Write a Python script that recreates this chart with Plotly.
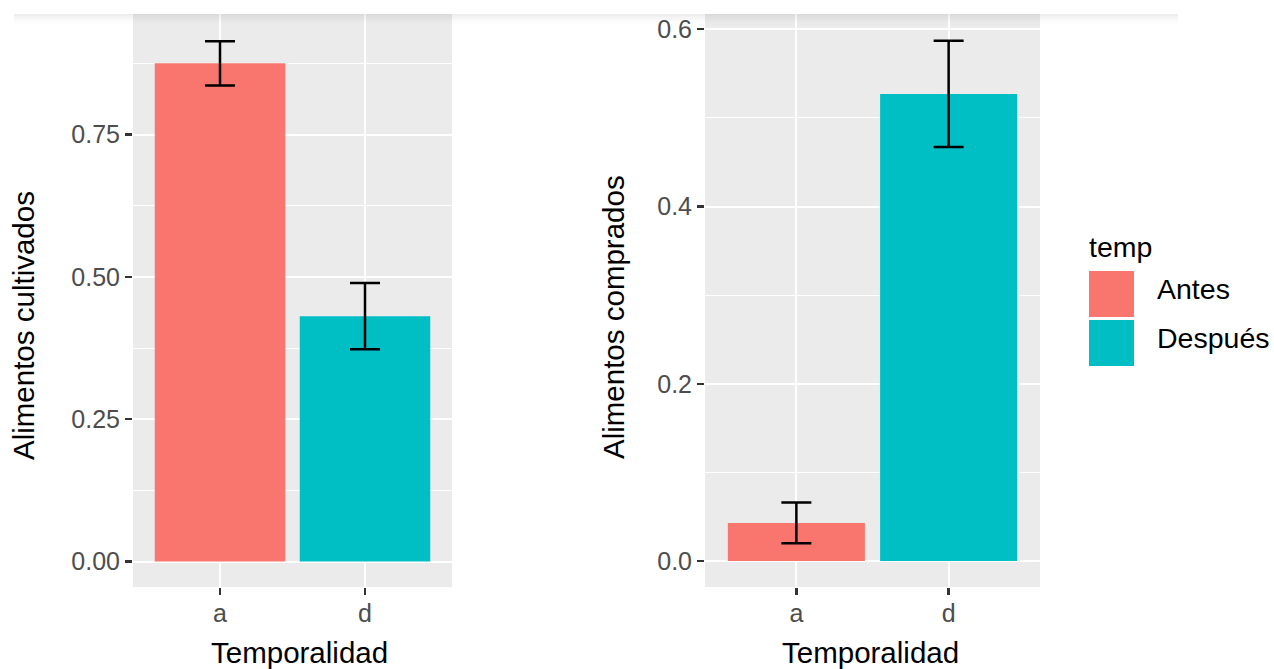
import plotly.graph_objects as go

W, H = 1274, 669

# ---- data ----
categories = ["a", "d"]
legend_labels = ["Antes", "Después"]
bar_colors = ["#F8766D", "#00BFC4"]

cultivados_mean = [0.875, 0.431]
cultivados_se = [0.039, 0.058]

comprados_mean = [0.043, 0.527]
comprados_se = [0.023, 0.060]

left_ticks = [0.0, 0.25, 0.5, 0.75]
right_ticks = [0.0, 0.2, 0.4, 0.6]


def px(x):
    return x / W


def py(y):
    return 1 - y / H


fig = go.Figure()

fig.add_trace(go.Bar(
    x=categories, y=cultivados_mean, width=0.9,
    marker=dict(color=bar_colors, line=dict(width=0)),
    error_y=dict(type="data", array=cultivados_se, visible=True,
                 color="black", thickness=2.5, width=15),
    xaxis="x", yaxis="y", showlegend=False, hoverinfo="skip",
))
fig.add_trace(go.Bar(
    x=categories, y=comprados_mean, width=0.9,
    marker=dict(color=bar_colors, line=dict(width=0)),
    error_y=dict(type="data", array=comprados_se, visible=True,
                 color="black", thickness=2.5, width=15),
    xaxis="x2", yaxis="y2", showlegend=False, hoverinfo="skip",
))

tickfont = dict(family="Liberation Sans, Arial, sans-serif", size=25, color="#4D4D4D")
titlefont = dict(family="Liberation Sans, Arial, sans-serif", size=29.5, color="black")
legfont = dict(family="Liberation Sans, Arial, sans-serif", size=28.5, color="black")

ydom = [py(587), py(14)]

common_x = dict(type="category", categoryorder="array", categoryarray=categories,
                range=[-0.6, 1.6], showgrid=True, gridcolor="white", gridwidth=2,
                ticks="outside", ticklen=7, tickwidth=2.5, tickcolor="#333333",
                ticklabelstandoff=-3,
                tickfont=tickfont, showline=False, zeroline=False, fixedrange=True)
common_y = dict(showgrid=True, gridcolor="white", gridwidth=2,
                ticks="outside", ticklen=7, tickwidth=2.5, tickcolor="#333333",
                tickfont=tickfont, showline=False, zeroline=False, fixedrange=True)

fig.update_layout(
    width=W, height=H,
    margin=dict(l=0, r=0, t=0, b=0),
    paper_bgcolor="white",
    plot_bgcolor="#EBEBEB",
    bargap=0.1,
    xaxis=dict(common_x, domain=[px(133), px(452)], anchor="y"),
    yaxis=dict(common_y, domain=ydom, anchor="x", range=[-0.0448, 0.9617],
               tickvals=left_ticks, tickformat=".2f",
               minor=dict(showgrid=True, gridcolor="white", gridwidth=1,
                          tick0=0.125, dtick=0.25)),
    xaxis2=dict(common_x, domain=[px(705), px(1040)], anchor="y2"),
    yaxis2=dict(common_y, domain=ydom, anchor="x2", range=[-0.0293, 0.6172],
                tickvals=right_ticks, tickformat=".1f",
                minor=dict(showgrid=True, gridcolor="white", gridwidth=1,
                           tick0=0.1, dtick=0.2)),
    showlegend=False,
)

annotations = [
    dict(text="Alimentos cultivados", x=px(23), y=py(326), textangle=-90),
    dict(text="Alimentos comprados", x=px(613), y=py(317), textangle=-90),
    dict(text="Temporalidad", x=px(299), y=py(652)),
    dict(text="Temporalidad", x=px(870), y=py(652)),
]
anns = []
for a in annotations:
    anns.append(dict(a, xref="paper", yref="paper", showarrow=False,
                     xanchor="center", yanchor="middle", font=titlefont))

# legend (manual)
anns.append(dict(text="temp", x=px(1087), y=py(247), xref="paper", yref="paper",
                 showarrow=False, xanchor="left", yanchor="middle", font=legfont))
key_tops = [271, 320]
label_centers = [289, 338]
shapes = []
for i, (lab, col) in enumerate(zip(legend_labels, bar_colors)):
    shapes.append(dict(type="rect", xref="paper", yref="paper",
                       x0=px(1089), x1=px(1134), y0=py(key_tops[i] + 46), y1=py(key_tops[i]),
                       fillcolor=col, line=dict(width=0)))
    anns.append(dict(text=lab, x=px(1155), y=py(label_centers[i]), xref="paper", yref="paper",
                     showarrow=False, xanchor="left", yanchor="middle", font=legfont))

# faint top shadow band
alphas = [0.07, 0.05, 0.04, 0.03, 0.02, 0.012, 0.006]
for k, a in enumerate(alphas):
    shapes.append(dict(type="rect", xref="paper", yref="paper", layer="above",
                       x0=px(14), x1=px(1178), y0=py(14 + 1.5 * (k + 1)), y1=py(14 + 1.5 * k),
                       fillcolor=f"rgba(0,0,0,{a})", line=dict(width=0)))

fig.update_layout(annotations=anns, shapes=shapes)

fig.write_html("out.html",
               config={"displayModeBar": False, "staticPlot": True},
               post_script="document.body.style.margin='0';"
                           "document.documentElement.style.overflow='hidden';"
                           "document.body.style.overflow='hidden';")
